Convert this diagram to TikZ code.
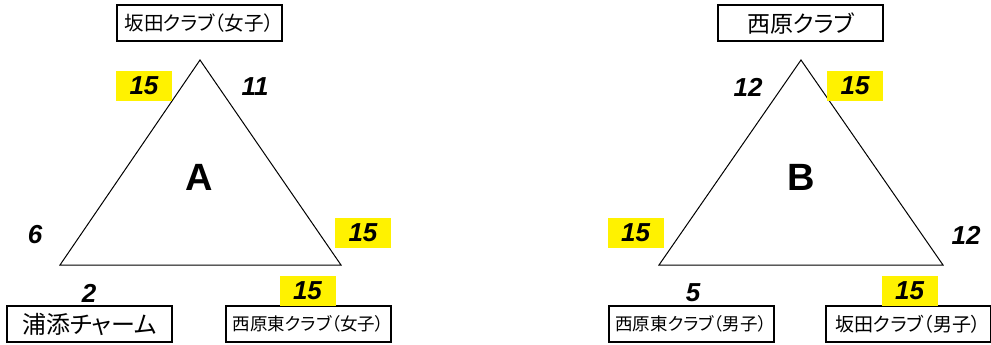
\documentclass[tikz,border=0pt]{standalone}
\usepackage{fontspec}
\setmainfont{Liberation Sans}
\newfontfamily\jpfont[RawFeature=+palt]{Noto Sans CJK JP}
\tikzset{
  team/.style={draw, line width=2pt, inner sep=0pt, minimum width=165pt, minimum height=36pt},
  score/.style={font=\fontsize{26}{26}\selectfont\bfseries\itshape, inner sep=0pt},
  win/.style={score, fill=yellow, minimum width=56pt, minimum height=30pt},
  group/.style={font=\fontsize{38}{38}\selectfont\bfseries}
}
\begin{document}
\begin{tikzpicture}[x=1pt, y=-1pt]
        \useasboundingbox (0,0) rectangle (991,345);
        % group A
        \coordinate (a1) at (200,60);
        \coordinate (a2) at (60,265);
        \coordinate (a3) at (341,265);
        \draw[line width=1pt] (a1) -- (a2) -- (a3) -- cycle;
        \node[group] (grpA) at (199,177) {A};
        \node[team, font=\jpfont\fontsize{19.5}{19.5}\selectfont] (sakajoshi) at (199,23.5) {坂田クラブ（女子）};
        \node[team, font=\jpfont\fontsize{24}{24}\selectfont] (urasoe) at (89.5,324) {浦添チャーム};
        \node[team, font=\jpfont\fontsize{17.5}{17.5}\selectfont] (nishijoshi) at (308.5,324) {西原東クラブ（女子）};
        \node[win] (sA1) at (144,86) {15};
        \node[score] (sA2) at (255,87) {11};
        \node[score] (sA3) at (35,235) {6};
        \node[win] (sA4) at (363,232.5) {15};
        \node[score] (sA5) at (89,293) {2};
        \node[win] (sA6) at (307.5,291) {15};
        % group B
        \coordinate (b1) at (801,60);
        \coordinate (b2) at (659,265);
        \coordinate (b3) at (943,265);
        \draw[line width=1pt] (b1) -- (b2) -- (b3) -- cycle;
        \node[group] (grpB) at (801,177) {B};
        \node[team, font=\jpfont\fontsize{23}{23}\selectfont] (nishihara) at (800.5,23.5) {西原クラブ};
        \node[team, font=\jpfont\fontsize{17.5}{17.5}\selectfont] (nishidanshi) at (691,324) {西原東クラブ（男子）};
        \node[team, font=\jpfont\fontsize{19}{19}\selectfont] (sakadanshi) at (908,324) {坂田クラブ（男子）};
        \node[score] (sB1) at (748,87) {12};
        \node[win] (sB2) at (855,86) {15};
        \node[win] (sB3) at (635.5,232.5) {15};
        \node[score] (sB4) at (966,235) {12};
        \node[score] (sB5) at (693,293) {5};
        \node[win] (sB6) at (909.5,291) {15};
      \end{tikzpicture}
\end{document}
